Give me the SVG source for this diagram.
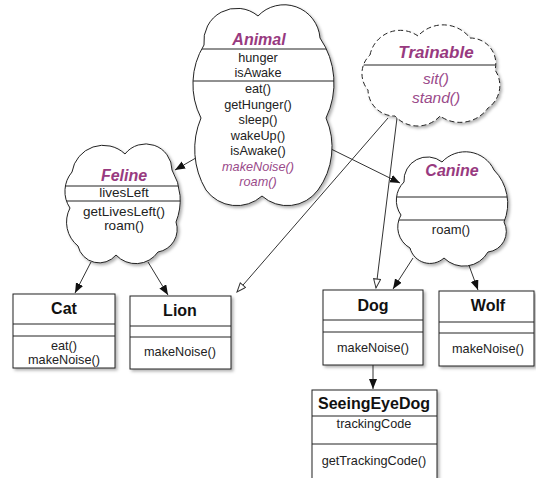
<svg xmlns="http://www.w3.org/2000/svg" width="536" height="478" viewBox="0 0 536 478">
<style>
  text { font-family: "Liberation Sans", Arial, sans-serif; fill: #222; }
  .t { font-size: 16px; font-weight: bold; text-anchor: middle; fill: #111; }
  .ti { font-size: 16px; font-weight: bold; font-style: italic; text-anchor: middle; fill: #983a80; }
  .b { font-size: 12.7px; text-anchor: middle; }
  .bi { font-size: 12.7px; font-style: italic; text-anchor: middle; fill: #9a4a8a; }
  .cloud { fill: #fff; stroke: #222; stroke-width: 1; }
  .dash { stroke-dasharray: 5 3; }
  .box { fill: #fff; stroke: #222; stroke-width: 1; }
  .sep { stroke: #222; stroke-width: 1; }
  .edge { stroke: #333; stroke-width: 1; fill: none; }
</style>
<defs>
  <filter id="sh" x="-10%" y="-10%" width="125%" height="125%">
    <feDropShadow dx="2" dy="2" stdDeviation="1.5" flood-color="#000" flood-opacity="0.3"/>
  </filter>
  <marker id="fill" markerUnits="userSpaceOnUse" markerWidth="12" markerHeight="10" refX="10" refY="4" orient="auto">
    <path d="M0,0 L10,4 L0,8 z" fill="#111"/>
  </marker>
  <marker id="hollow" markerUnits="userSpaceOnUse" markerWidth="12" markerHeight="10" refX="10" refY="4" orient="auto">
    <path d="M1,0.5 L10,4 L1,7.5 z" fill="#fff" stroke="#333" stroke-width="1"/>
  </marker>
  <path id="cAnimal" d="M204,45 A33,33 0 0 1 258,16 A36,36 0 0 1 320,38 A80,80 0 0 1 326,118 A73,73 0 0 1 318,190 A38,38 0 0 1 262,196 A38,38 0 0 1 206,190 A80,80 0 0 1 201,118 A75,75 0 0 1 204,45 Z"/>
  <path id="cFeline" d="M72,172 A31.6,31.6 0 0 1 125,154 A26.3,26.3 0 0 1 172,170 A59,59 0 0 1 176,222 A23,23 0 0 1 158,252 A27,27 0 0 1 116,255 A21.8,21.8 0 0 1 78,246 A30.6,30.6 0 0 1 70,208 A30,30 0 0 1 72,172 Z"/>
  <path id="cCanine" d="M404,182 A23.5,23.5 0 0 1 442,162 A31.7,31.7 0 0 1 494,170 A48,48 0 0 1 504,222 A20.6,20.6 0 0 1 488,252 A27.9,27.9 0 0 1 444,258 A20.7,20.7 0 0 1 410,248 A24,24 0 0 1 401,215 A25.7,25.7 0 0 1 404,182 Z"/>
  <path id="cTrain" d="M370,55 A30.8,30.8 0 0 1 418,36 A34,34 0 0 1 470,38 A25.6,25.6 0 0 1 495,70 A27.3,27.3 0 0 1 488,108 A34.5,34.5 0 0 1 440,116 A30.3,30.3 0 0 1 395,116 A26.6,26.6 0 0 1 368,90 A25.4,25.4 0 0 1 370,55 Z"/>
  <clipPath id="kAnimal"><use href="#cAnimal"/></clipPath>
  <clipPath id="kFeline"><use href="#cFeline"/></clipPath>
  <clipPath id="kCanine"><use href="#cCanine"/></clipPath>
  <clipPath id="kTrain"><use href="#cTrain"/></clipPath>
</defs>

<g id="connectors">
  <line class="edge" x1="201" y1="155" x2="175" y2="170" marker-end="url(#fill)"/>
  <line class="edge" x1="327" y1="147" x2="400" y2="183" marker-end="url(#fill)"/>
  <line class="edge" x1="388" y1="118" x2="237" y2="292" marker-end="url(#hollow)"/>
  <line class="edge" x1="397" y1="118" x2="376" y2="288" marker-end="url(#hollow)"/>
  <line class="edge" x1="91" y1="262" x2="75" y2="293" marker-end="url(#fill)"/>
  <line class="edge" x1="148" y1="262" x2="168" y2="295" marker-end="url(#fill)"/>
  <line class="edge" x1="413" y1="258" x2="393" y2="289" marker-end="url(#fill)"/>
  <line class="edge" x1="467" y1="260" x2="478" y2="290" marker-end="url(#fill)"/>
  <line class="edge" x1="373" y1="365" x2="373" y2="389" marker-end="url(#fill)"/>
</g>

<g id="animal">
  <use href="#cAnimal" class="cloud" filter="url(#sh)"/>
  <g clip-path="url(#kAnimal)">
    <line class="sep" x1="190" y1="49" x2="340" y2="49"/>
    <line class="sep" x1="190" y1="81" x2="340" y2="81"/>
  </g>
  <text class="ti" x="259" y="45">Animal</text>
  <text class="b" x="258" y="62">hunger</text>
  <text class="b" x="258" y="77">isAwake</text>
  <text class="b" x="258" y="93">eat()</text>
  <text class="b" x="258" y="108.5">getHunger()</text>
  <text class="b" x="258" y="124">sleep()</text>
  <text class="b" x="258" y="139.5">wakeUp()</text>
  <text class="b" x="258" y="155">isAwake()</text>
  <text class="bi" x="258" y="170.5">makeNoise()</text>
  <text class="bi" x="258" y="186">roam()</text>
</g>

<g id="trainable">
  <use href="#cTrain" class="cloud dash" filter="url(#sh)"/>
  <g clip-path="url(#kTrain)">
    <line class="sep" x1="360" y1="65" x2="500" y2="65"/>
  </g>
  <text class="ti" x="436" y="58" style="font-size:17px">Trainable</text>
  <text class="bi" x="436" y="84" style="font-size:15.5px">sit()</text>
  <text class="bi" x="436" y="103" style="font-size:15.5px">stand()</text>
</g>

<g id="feline">
  <use href="#cFeline" class="cloud" filter="url(#sh)"/>
  <g clip-path="url(#kFeline)">
    <line class="sep" x1="60" y1="186" x2="185" y2="186"/>
    <line class="sep" x1="60" y1="201" x2="185" y2="201"/>
  </g>
  <text class="ti" x="124" y="181">Feline</text>
  <text class="b" x="124" y="197" style="font-size:13.5px">livesLeft</text>
  <text class="b" x="124" y="216" style="font-size:13.5px">getLivesLeft()</text>
  <text class="b" x="124" y="230" style="font-size:13.5px">roam()</text>
</g>

<g id="canine">
  <use href="#cCanine" class="cloud" filter="url(#sh)"/>
  <g clip-path="url(#kCanine)">
    <line class="sep" x1="395" y1="197" x2="510" y2="197"/>
    <line class="sep" x1="395" y1="220" x2="510" y2="220"/>
  </g>
  <text class="ti" x="452" y="176">Canine</text>
  <text class="b" x="451" y="234" style="font-size:13px">roam()</text>
</g>

<g id="cat">
  <rect class="box" x="13" y="294" width="102" height="74" filter="url(#sh)"/>
  <line class="sep" x1="13" y1="324" x2="115" y2="324"/>
  <line class="sep" x1="13" y1="336" x2="115" y2="336"/>
  <text class="t" x="64" y="314">Cat</text>
  <text class="b" x="64" y="350">eat()</text>
  <text class="b" x="64" y="364">makeNoise()</text>
</g>

<g id="lion">
  <rect class="box" x="130" y="296" width="101" height="73" filter="url(#sh)"/>
  <line class="sep" x1="130" y1="326" x2="231" y2="326"/>
  <line class="sep" x1="130" y1="337" x2="231" y2="337"/>
  <text class="t" x="180" y="316">Lion</text>
  <text class="b" x="180" y="356">makeNoise()</text>
</g>

<g id="dog">
  <rect class="box" x="323" y="290" width="100" height="75" filter="url(#sh)"/>
  <line class="sep" x1="323" y1="320" x2="423" y2="320"/>
  <line class="sep" x1="323" y1="332" x2="423" y2="332"/>
  <text class="t" x="373" y="311">Dog</text>
  <text class="b" x="373" y="352">makeNoise()</text>
</g>

<g id="wolf">
  <rect class="box" x="439" y="291" width="95" height="75" filter="url(#sh)"/>
  <line class="sep" x1="439" y1="322" x2="534" y2="322"/>
  <line class="sep" x1="439" y1="333" x2="534" y2="333"/>
  <text class="t" x="488" y="311">Wolf</text>
  <text class="b" x="488" y="353">makeNoise()</text>
</g>

<g id="seeingeyedog">
  <rect class="box" x="312" y="390" width="125" height="95" filter="url(#sh)"/>
  <line class="sep" x1="312" y1="416" x2="437" y2="416"/>
  <line class="sep" x1="312" y1="444" x2="437" y2="444"/>
  <text class="t" x="374" y="409">SeeingEyeDog</text>
  <text class="b" x="374" y="428">trackingCode</text>
  <text class="b" x="374" y="465">getTrackingCode()</text>
</g>
</svg>
